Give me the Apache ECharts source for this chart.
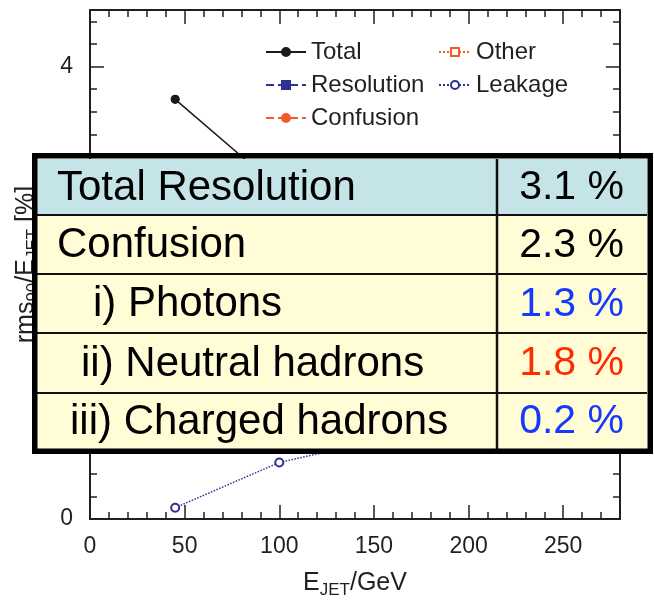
<!DOCTYPE html>
<html>
<head>
<meta charset="utf-8">
<script src="https://cdn.jsdelivr.net/npm/echarts@6/dist/echarts.min.js"></script>
<style>
html,body{margin:0;padding:0;background:#fff;}
#chart{width:654px;height:605px;}
</style>
</head>
<body>
<div id="chart"></div>
<script>
// ---- data ----
const energies = [45, 100, 180, 250];
const totalValues = [3.71, 2.92, 2.95, 3.1];
const resolutionValues = [3.0, 2.1, 1.7, 1.5];
const confusionValues = [1.2, 1.6, 2.1, 2.3];
const otherValues = [1.7, 1.1, 0.9, 0.8];
const leakageValues = [0.1, 0.5, 0.8, 1.0];
const tableLabels = ['Total Resolution', 'Confusion', 'i) Photons', 'ii) Neutral hadrons', 'iii) Charged hadrons'];
const tableValues = ['3.1 %', '2.3 %', '1.3 %', '1.8 %', '0.2 %'];

// ---- layout / style ----
const FONT = "'Liberation Sans', Arial, sans-serif";
const INK = '#231f20';
const NAVY = '#2e3192';
const ORANGE = '#f15a29';
const valueColors = ['#000000', '#000000', '#1539ff', '#ff2a00', '#1539ff'];
const labelIndents = [57, 57, 93, 81, 70];
const rowBounds = [159, 215, 274, 333, 393, 449];

const pts = vals => energies.map((e, i) => [e, vals[i]]);

const chart = echarts.init(document.getElementById('chart'), null, {renderer: 'canvas'});

const subRich = {
  m: {fontSize: 25, fontFamily: FONT, color: INK, lineHeight: 25, verticalAlign: 'top'},
  s: {fontSize: 17, fontFamily: FONT, color: INK, lineHeight: 28, verticalAlign: 'bottom'}
};

function xAxisDef(pos, interval, len, labels, line) {
  return {
    type: 'value', position: pos, min: 0, max: 280, interval: interval,
    axisLine: {show: line, onZero: false, lineStyle: {color: INK, width: 2}},
    axisTick: {show: true, inside: true, length: len, lineStyle: {color: INK, width: 1.5}},
    axisLabel: labels ? {show: true, fontSize: 23, fontFamily: FONT, color: INK, margin: 16,
      formatter: v => (v % 50 === 0 ? String(v) : '')} : {show: false},
    splitLine: {show: false}
  };
}
function yAxisDef(pos, interval, len, labels, line) {
  return {
    type: 'value', position: pos, min: 0, max: 4.5, interval: interval,
    axisLine: {show: line, onZero: false, lineStyle: {color: INK, width: 2}},
    axisTick: {show: true, inside: true, length: len, lineStyle: {color: INK, width: 1.5}},
    axisLabel: labels ? {show: true, fontSize: 23, fontFamily: FONT, color: INK, margin: 17,
      formatter: v => (Number.isInteger(v) ? String(v) : '')} : {show: false},
    splitLine: {show: false}
  };
}

const xAxes = [
  xAxisDef('bottom', 50, 14, true, true),
  xAxisDef('bottom', 10, 7, false, false),
  xAxisDef('top', 50, 14, false, true),
  xAxisDef('top', 10, 7, false, false)
];
xAxes[0].name = '{m|E}{s|JET}{m|/GeV}';
xAxes[0].nameLocation = 'middle';
xAxes[0].nameGap = 52;
xAxes[0].nameTextStyle = {rich: subRich};

const yAxes = [
  yAxisDef('left', 1, 14, true, true),
  yAxisDef('left', 0.2, 7, false, false),
  yAxisDef('right', 1, 14, false, true),
  yAxisDef('right', 0.2, 7, false, false)
];
yAxes[0].name = '{m|rms}{s|90}{m|/E}{s|JET}{m| [%]}';
yAxes[0].nameLocation = 'middle';
yAxes[0].nameGap = 48;
yAxes[0].nameRotate = 90;
yAxes[0].nameTextStyle = {rich: subRich};

function series(name, vals, color, dash, symbol, size, width) {
  return {
    name: name, type: 'line', data: pts(vals), xAxisIndex: 0, yAxisIndex: 0,
    symbol: symbol, symbolSize: size,
    lineStyle: {color: color, width: width, type: dash},
    itemStyle: {color: color, borderColor: color, borderWidth: 1.2},
    z: 3
  };
}

// ---- table graphic ----
const graphics = [];
graphics.push({type: 'rect', z: 100, shape: {x: 37, y: rowBounds[0], width: 610, height: rowBounds[1] - rowBounds[0]},
  style: {fill: '#c4e4e8'}});
graphics.push({type: 'rect', z: 100, shape: {x: 37, y: rowBounds[1], width: 610, height: rowBounds[5] - rowBounds[1]},
  style: {fill: '#fffcd6'}});
for (let i = 1; i < 5; i++) {
  graphics.push({type: 'line', z: 101, shape: {x1: 37, y1: rowBounds[i], x2: 647, y2: rowBounds[i]},
    style: {stroke: '#111', lineWidth: 2}});
}
graphics.push({type: 'line', z: 101, shape: {x1: 497, y1: rowBounds[0], x2: 497, y2: rowBounds[5]},
  style: {stroke: '#111', lineWidth: 2.5}});
graphics.push({type: 'rect', z: 102, shape: {x: 34.75, y: 155.75, width: 615.5, height: 295.5},
  style: {fill: 'none', stroke: '#000', lineWidth: 5.5}});
tableLabels.forEach((lab, i) => {
  const cy = (rowBounds[i] + rowBounds[i + 1]) / 2 + 1;
  graphics.push({type: 'text', z: 103, x: labelIndents[i], y: cy,
    style: {text: lab, font: '42px ' + FONT, fill: '#000', textAlign: 'left', textVerticalAlign: 'middle'}});
  graphics.push({type: 'text', z: 103, x: 624, y: cy,
    style: {text: tableValues[i], font: '41px ' + FONT, fill: valueColors[i], textAlign: 'right', textVerticalAlign: 'middle'}});
});

chart.setOption({
  animation: false,
  backgroundColor: '#ffffff',
  grid: {left: 90, right: 34, top: 10, bottom: 86, containLabel: false},
  xAxis: xAxes,
  yAxis: yAxes,
  legend: [
    {data: ['Total', 'Resolution', 'Confusion'], orient: 'vertical', left: 265, top: 40, padding: 0,
      itemWidth: 40, itemHeight: 10, itemGap: 9,
      textStyle: {fontSize: 24, fontFamily: FONT, color: INK}},
    {data: ['Other', 'Leakage'], orient: 'vertical', left: 438, top: 40, padding: 0,
      itemWidth: 32, itemHeight: 10, itemGap: 9,
      textStyle: {fontSize: 24, fontFamily: FONT, color: INK}}
  ],
  series: [
    series('Total', totalValues, '#1a1a1a', 'solid', 'circle', 8, 1.5),
    series('Resolution', resolutionValues, NAVY, 'dashed', 'rect', 8, 1.5),
    series('Confusion', confusionValues, ORANGE, 'dashed', 'circle', 8, 1.5),
    series('Other', otherValues, ORANGE, 'dotted', 'emptyRect', 8, 1.5),
    series('Leakage', leakageValues, NAVY, 'dotted', 'emptyCircle', 8, 1.5)
  ],
  graphic: graphics
});
</script>
</body>
</html>
